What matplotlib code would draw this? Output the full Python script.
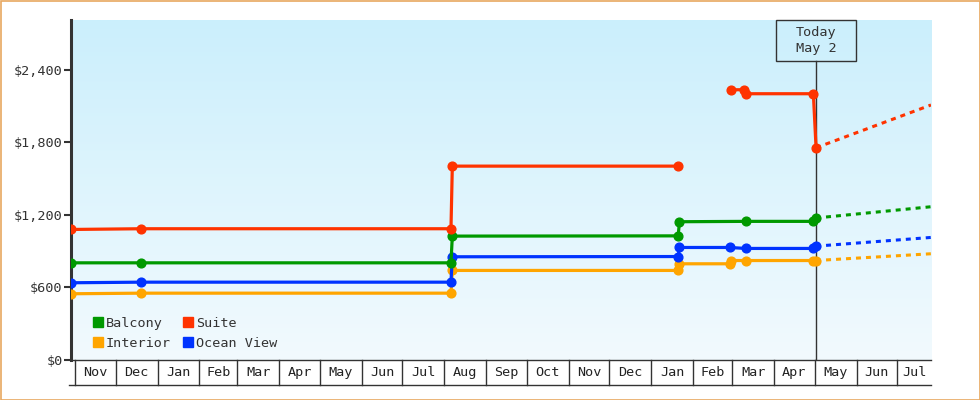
import datetime as dt
import numpy as np
import pandas as pd
import matplotlib
matplotlib.use("Agg")
import matplotlib.pyplot as plt
import matplotlib.dates as mdates
from matplotlib.transforms import blended_transform_factory
from matplotlib.patches import Rectangle
from matplotlib.lines import Line2D

plt.rcParams["font.family"] = ["DejaVu Sans Mono"]
plt.rcParams["lines.scale_dashes"] = False

# ---------------- data ----------------
balcony_dates = ["2014-10-29", "2014-12-20", "2015-08-06", "2015-08-07", "2016-01-21",
                 "2016-01-22", "2016-03-11", "2016-04-30", "2016-05-02"]
balcony_values = [804, 804, 804, 1025, 1027, 1144, 1147, 1147, 1175]

suite_dates = ["2014-10-29", "2014-12-20", "2015-08-06", "2015-08-07", "2016-01-21",
               "2016-02-05", "2016-02-29", "2016-03-10", "2016-03-11", "2016-04-30", "2016-05-02"]
suite_values = [1080, 1086, 1086, 1604, 1604, np.nan, 2236, 2236, 2203, 2203, 1756]

interior_dates = ["2014-10-29", "2014-12-20", "2015-08-06", "2015-08-07", "2016-01-21",
                  "2016-01-22", "2016-02-28", "2016-02-29", "2016-03-11", "2016-04-30", "2016-05-02"]
interior_values = [548, 553, 553, 741, 741, 796, 796, 823, 823, 823, 823]

ocean_dates = ["2014-10-29", "2014-12-20", "2015-08-06", "2015-08-07", "2016-01-21",
               "2016-01-22", "2016-02-28", "2016-03-11", "2016-04-30", "2016-05-02"]
ocean_values = [639, 644, 644, 854, 856, 931, 931, 923, 923, 942]

today_date = "2016-05-02"
end_date = "2016-07-26"
projection_end = {"Balcony": 1268, "Suite": 2110, "Interior": 879, "Ocean View": 1014}

month_labels = ["Nov", "Dec", "Jan", "Feb", "Mar", "Apr", "May", "Jun", "Jul", "Aug", "Sep",
                "Oct", "Nov", "Dec", "Jan", "Feb", "Mar", "Apr", "May", "Jun", "Jul"]
y_ticks = [0, 600, 1200, 1800, 2400]
y_tick_labels = ["$0", "$600", "$1,200", "$1,800", "$2,400"]

colors = {"Balcony": "#009900", "Suite": "#FF3300", "Interior": "#FFA500", "Ocean View": "#0033FF"}

series = [
    ("Interior", interior_dates, interior_values),
    ("Ocean View", ocean_dates, ocean_values),
    ("Balcony", balcony_dates, balcony_values),
    ("Suite", suite_dates, suite_values),
]

# ---------------- figure ----------------
fig = plt.figure(figsize=(9.8, 4.0), dpi=100)
fig.patch.set_facecolor("white")
W, H = 980, 400
ax = fig.add_axes([71 / W, 40 / H, 860 / W, 340 / H])

x0 = pd.Timestamp(suite_dates[0])
x1 = pd.Timestamp(end_date)
ax.set_xlim(x0, x1)
ax.set_ylim(0, 2813)

# gradient background
grad = np.linspace(0, 1, 256).reshape(-1, 1)
top = np.array([0xCB, 0xEF, 0xFC]) / 255.0
bot = np.array([0xF2, 0xFA, 0xFE]) / 255.0
img = top[None, None, :] * (1 - grad[:, :, None]) + bot[None, None, :] * grad[:, :, None]
ax.imshow(img, extent=[0, 1, 0, 1], transform=ax.transAxes, aspect="auto", zorder=0)
ax.set_facecolor("none")

today = pd.Timestamp(today_date)

for name, dates, vals in series:
    d = pd.to_datetime(dates)
    ax.plot(d, vals, color=colors[name], lw=2.3, marker="o", ms=6.3, zorder=3,
            solid_capstyle="butt")
    last = [v for v in vals if not np.isnan(v)][-1]
    ax.plot([today, x1], [last, projection_end[name]], color=colors[name], lw=2.2,
            linestyle=(0, (3.6, 3.6)), dash_capstyle="butt", zorder=3)

# spines
for s in ["top", "right"]:
    ax.spines[s].set_visible(False)
ax.spines["left"].set_linewidth(2.2)
ax.spines["left"].set_color("#333333")
ax.spines["bottom"].set_linewidth(1.0)
ax.spines["bottom"].set_color("#333333")

ax.set_yticks(y_ticks)
ax.set_yticklabels(y_tick_labels)
ax.tick_params(axis="y", length=5, width=1.5, color="#333333", pad=1,
               labelsize=9.7, labelcolor="#333333")
ax.set_xticks([])

# month cells below the plot
trans = blended_transform_factory(ax.transData, ax.transAxes)
starts = pd.date_range("2014-11-01", periods=len(month_labels), freq="MS")
cell_bottom = -25 / 340
for i, (st, lab) in enumerate(zip(starts, month_labels)):
    en = starts[i + 1] if i + 1 < len(starts) else x1
    ax.add_line(Line2D([st, st], [0, cell_bottom], transform=trans, color="#333333",
                       lw=1.0, clip_on=False))
    mid = st + (min(en, x1) - st) / 2
    ax.text(mid, cell_bottom / 2, lab, transform=trans, ha="center", va="center",
            fontsize=9.7, color="#222222", clip_on=False)
ax.add_line(Line2D([-0.002, 1], [cell_bottom, cell_bottom], transform=ax.transAxes,
                   color="#333333", lw=1.0, clip_on=False))

# today marker
box_bottom = 1 - 41 / 340
ax.add_line(Line2D([today, today], [0, box_bottom], transform=trans, color="#333333",
                   lw=1.0, zorder=2))
half = pd.Timedelta(days=29.5)
ax.add_patch(Rectangle((today - half, box_bottom), 2 * half, 1 - box_bottom,
                       transform=trans, facecolor="none", edgecolor="#333333",
                       lw=1.0, zorder=4, clip_on=False))
ax.text(today, (box_bottom + 1) / 2, "Today\nMay 2", transform=trans, ha="center",
        va="center", fontsize=9.7, color="#333333", linespacing=1.35, zorder=5)

# legend
order = ["Balcony", "Interior", "Suite", "Ocean View"]
handles = [Line2D([], [], marker="s", linestyle="none", ms=7.4, mfc=colors[n],
                  mec=colors[n]) for n in order]
leg = ax.legend(handles, order, ncol=2, loc="lower left", frameon=False,
                bbox_to_anchor=(0.021, 0.018), fontsize=9.7, handlelength=0.8,
                handletextpad=0.15, columnspacing=0.9, labelspacing=0.5,
                borderaxespad=0.0, borderpad=0.3)
for t in leg.get_texts():
    t.set_color("#333333")

# outer border
fig.add_artist(Rectangle((0.5 / W, 0.5 / H), 1 - 1 / W, 1 - 1 / H, transform=fig.transFigure,
                         facecolor="none", edgecolor="#E8A860", lw=1.2))

fig.savefig("out.png", dpi=100)
